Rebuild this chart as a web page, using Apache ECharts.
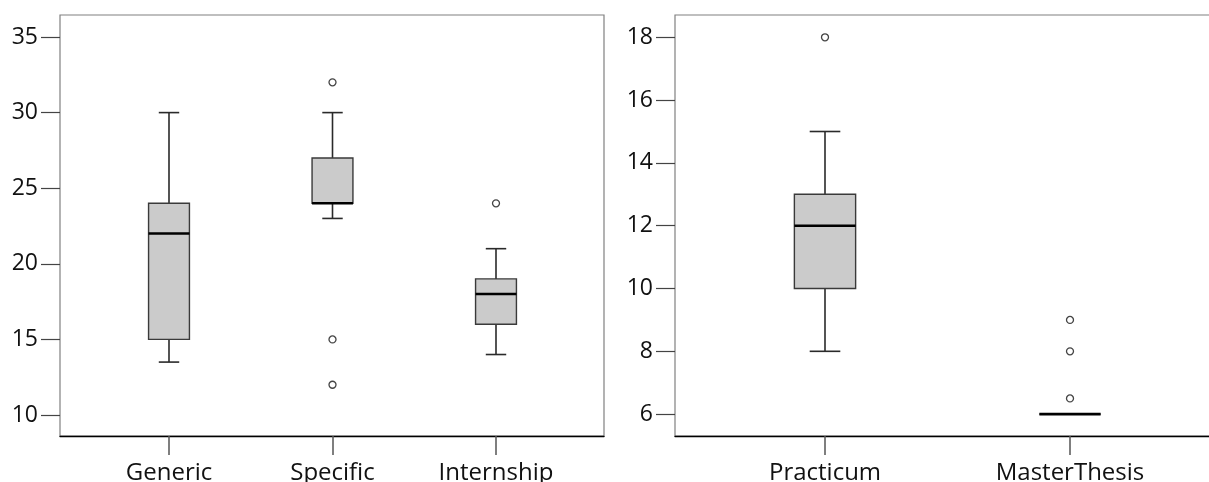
<!DOCTYPE html>
<html>
<head>
<meta charset="utf-8">
<style>
  html, body { margin: 0; padding: 0; background: #fff; }
  #chart { width: 1209px; height: 482px; }
</style>
<script src="https://cdn.jsdelivr.net/npm/echarts@6/dist/echarts.min.js"></script>
</head>
<body>
<div id="chart"></div>
<script>
// ---- data ----
const leftCategories = ['Generic', 'Specific', 'Internship'];
// [min, Q1, median, Q3, max]
const leftBoxes = [
  [13.5, 15, 22, 24, 30],
  [23, 24, 24, 27, 30],
  [14, 16, 18, 19, 21]
];
// [categoryIndex, value]
const leftOutliers = [
  [1, 32], [1, 15], [1, 12],
  [2, 24]
];
const leftTicks = [10, 15, 20, 25, 30, 35];

const rightCategories = ['Practicum', 'MasterThesis'];
const rightBoxes = [
  [8, 10, 12, 13, 15],
  [6, 6, 6, 6, 6]
];
const rightOutliers = [
  [0, 18],
  [1, 9], [1, 8], [1, 6.5]
];
const rightTicks = [6, 8, 10, 12, 14, 16, 18];

// ---- chart ----
const FONT = 'Open Sans';
const chart = echarts.init(document.getElementById('chart'), null, { renderer: 'canvas' });

function renderBox(params, api) {
  const x = api.value(0);
  const vMin = api.value(1), q1 = api.value(2), med = api.value(3), q3 = api.value(4), vMax = api.value(5);
  const band = api.size([1, 0])[0];
  const bw = band * 0.25;
  const cw = bw / 2;
  const pMin = api.coord([x, vMin]);
  const pQ1 = api.coord([x, q1]);
  const pMed = api.coord([x, med]);
  const pQ3 = api.coord([x, q3]);
  const pMax = api.coord([x, vMax]);
  const cx = pMed[0];
  const wStyle = { stroke: '#2a2a2a', lineWidth: 1.6 };
  const children = [];
  if (vMin < q1) {
    children.push({ type: 'line', shape: { x1: cx, y1: pMin[1], x2: cx, y2: pQ1[1] }, style: wStyle });
    children.push({ type: 'line', shape: { x1: cx - cw / 2, y1: pMin[1], x2: cx + cw / 2, y2: pMin[1] }, style: wStyle });
  }
  if (vMax > q3) {
    children.push({ type: 'line', shape: { x1: cx, y1: pQ3[1], x2: cx, y2: pMax[1] }, style: wStyle });
    children.push({ type: 'line', shape: { x1: cx - cw / 2, y1: pMax[1], x2: cx + cw / 2, y2: pMax[1] }, style: wStyle });
  }
  children.push({
    type: 'rect',
    shape: { x: cx - bw / 2, y: pQ3[1], width: bw, height: pQ1[1] - pQ3[1] },
    style: { fill: '#cbcbcb', stroke: '#3a3a3a', lineWidth: 1.4 }
  });
  children.push({
    type: 'line',
    shape: { x1: cx - bw / 2, y1: pMed[1], x2: cx + bw / 2, y2: pMed[1] },
    style: { stroke: '#000', lineWidth: 2.6 }
  });
  return { type: 'group', children: children };
}

const leftMin = 8.611, leftMax = 36.455;
const rightMin = 5.303, rightMax = 18.71;

const frameY = (min, max, ticks, grid) => ({
  gridIndex: grid, type: 'value', min: min, max: max,
  axisLine: { show: false },
  splitLine: { show: false },
  axisTick: { show: true, length: 19, customValues: ticks, lineStyle: { color: '#444', width: 1.2 } },
  axisLabel: { show: true, customValues: ticks, margin: 22, fontSize: 23, fontFamily: FONT, color: '#111' }
});
const hiddenY = (min, max, grid) => ({
  gridIndex: grid, type: 'value', min: min, max: max, show: false, splitLine: { show: false }
});
const frameX = (grid) => ({
  gridIndex: grid, type: 'value', min: 0, max: 1,
  axisLine: { show: true, lineStyle: { color: '#000', width: 1.4 } },
  axisTick: { show: false }, axisLabel: { show: false }, splitLine: { show: false }
});
const dataX = (cats, grid) => ({
  gridIndex: grid, type: 'category', data: cats, boundaryGap: true,
  axisLine: { show: false },
  axisTick: { show: true, alignWithLabel: true, length: 19, lineStyle: { color: '#555', width: 1.5 } },
  axisLabel: { show: true, margin: 25, fontSize: 24, fontFamily: FONT, color: '#111' },
  splitLine: { show: false }
});

const G = { outerBoundsMode: 'none', containLabel: false };
const option = {
  backgroundColor: '#fff',
  animation: false,
  grid: [
    Object.assign({ left: 60, top: 15, width: 544, height: 421, show: true, borderColor: '#808080', borderWidth: 1.2, backgroundColor: 'transparent' }, G),
    Object.assign({ left: 87.25, top: 15, width: 490.5, height: 421 }, G),
    Object.assign({ left: 675, top: 15, width: 600, height: 421, show: true, borderColor: '#808080', borderWidth: 1.2, backgroundColor: 'transparent' }, G),
    Object.assign({ left: 702.5, top: 15, width: 490, height: 421 }, G)
  ],
  xAxis: [frameX(0), dataX(leftCategories, 1), frameX(2), dataX(rightCategories, 3)],
  yAxis: [
    frameY(leftMin, leftMax, leftTicks, 0),
    hiddenY(leftMin, leftMax, 1),
    frameY(rightMin, rightMax, rightTicks, 2),
    hiddenY(rightMin, rightMax, 3)
  ],
  series: [
    {
      type: 'custom', xAxisIndex: 1, yAxisIndex: 1, renderItem: renderBox,
      data: leftBoxes.map((b, i) => [i].concat(b)), z: 3
    },
    {
      type: 'scatter', xAxisIndex: 1, yAxisIndex: 1, symbol: 'circle', symbolSize: 7,
      itemStyle: { color: '#fff', borderColor: '#444', borderWidth: 1.3, opacity: 1 },
      data: leftOutliers, z: 4
    },
    {
      type: 'custom', xAxisIndex: 3, yAxisIndex: 3, renderItem: renderBox,
      data: rightBoxes.map((b, i) => [i].concat(b)), z: 3
    },
    {
      type: 'scatter', xAxisIndex: 3, yAxisIndex: 3, symbol: 'circle', symbolSize: 7,
      itemStyle: { color: '#fff', borderColor: '#444', borderWidth: 1.3, opacity: 1 },
      data: rightOutliers, z: 4
    }
  ]
};
chart.setOption(option);
</script>
</body>
</html>
